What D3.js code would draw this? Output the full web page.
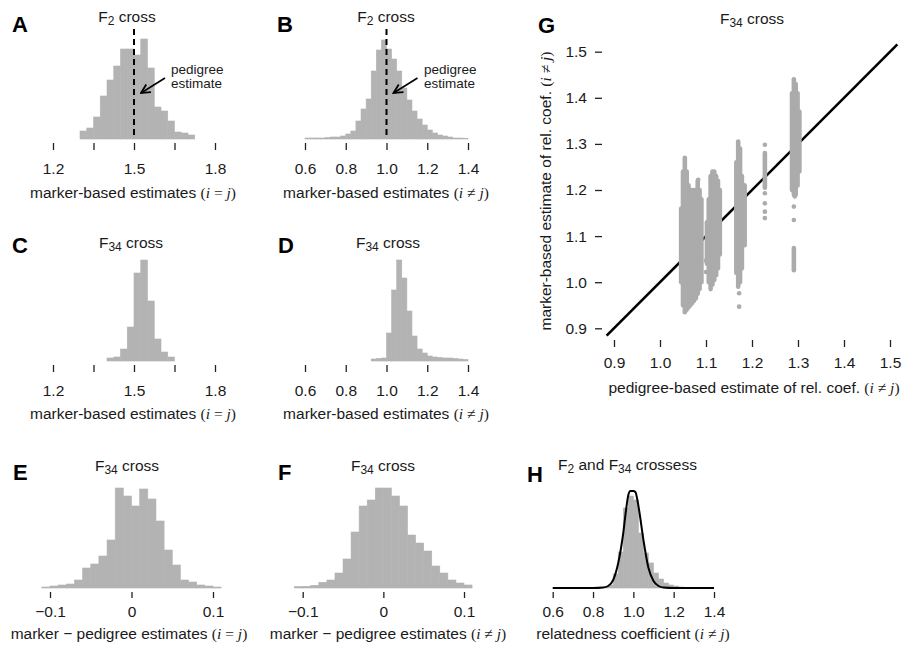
<!DOCTYPE html>
<html>
<head>
<meta charset="utf-8">
<script src="https://cdn.jsdelivr.net/npm/d3@7"></script>
<style>
body { margin: 0; background: #fff; }
text { font-family: "Liberation Sans", Arial, Helvetica, sans-serif; font-size: 15.5px; fill: #1a1a1a; }
</style>
</head>
<body>
<div id="fig"></div>
<script>
// ---- data (bar heights are relative frequencies, tallest bar ~100) ----

// A: F2 cross, marker-based estimates (i = j)
var histA_x0 = [1.300,1.325,1.350,1.375,1.400,1.425,1.450,1.475,1.500,1.525,1.550,1.575,1.600,1.625,1.650,1.675,1.700];
var histA_n  = [8,11,22,43,59,73,90,90,84,100,71,32,28,18,7,6,4];
var ticksA  = [1.2,1.35,1.5,1.65,1.8];
var labelsA = ["1.2","","1.5","","1.8"];

// B: F2 cross, marker-based estimates (i != j)
var histB_x0 = [0.600,0.625,0.650,0.675,0.700,0.725,0.750,0.775,0.800,0.825,0.850,0.875,0.900,0.925,0.950,0.975,
                1.000,1.025,1.050,1.075,1.100,1.125,1.150,1.175,1.200,1.225,1.250,1.275,1.300,1.325,1.350,1.375];
var histB_n  = [1,1,1,1,1.5,2,2,3,5,8,18,30,40,68,89,99,90,80,68,51,39,28,20,14,9,6,4,3,2,1,1,0.6];
var ticksB  = [0.6,0.8,1.0,1.2,1.4];
var labelsB = ["0.6","0.8","1.0","1.2","1.4"];

// C: F34 cross (i = j)
var histC_x0 = [1.400,1.425,1.450,1.475,1.500,1.525,1.550,1.575,1.600,1.625];
var histC_n  = [3,4,12,34,88,101,60,22,9,4];

// D: F34 cross (i != j)
var histD_x0 = [0.925,0.950,0.975,1.000,1.025,1.050,1.075,1.100,1.125,1.150,1.175,1.200,1.225,1.250,1.275,1.300,1.325,1.350,1.375];
var histD_n  = [2,2.5,3,28,71,101,83,50,25,12,8,5,4,3.5,3,3,2.5,2,1.5];

// E: marker - pedigree (i = j)
var histE_x0 = [-0.11,-0.10,-0.09,-0.08,-0.07,-0.06,-0.05,-0.04,-0.03,-0.02,-0.01,0.00,0.01,0.02,0.03,0.04,0.05,0.06,0.07,0.08,0.09,0.10];
var histE_n  = [1,2,3,4,8,20,24,32,48,100,92,82,99,89,67,38,23,8,6,3,2,1];

// F: marker - pedigree (i != j)
var histF_x0 = [-0.11,-0.10,-0.09,-0.08,-0.07,-0.06,-0.05,-0.04,-0.03,-0.02,-0.01,0.00,0.01,0.02,0.03,0.04,0.05,0.06,0.07,0.08,0.09,0.10];
var histF_n  = [1.5,1.7,2.7,5.7,8,15,29,56,82,88,100,100,92,82,53,45,37,22,15,8,5,3];
var ticksEF  = [-0.1,0,0.1];
var labelsEF = ["\u22120.1","0","0.1"];

// H: relatedness coefficient, F2 and F34 crosses
var histH_x0 = [0.850,0.875,0.900,0.925,0.950,0.975,1.000,1.025,1.050,1.075,1.100,1.125,1.150,1.175,1.200,1.225];
var histH_n  = [1,3,14,36,80,92,88,55,35,25,15,9,5,3,2,1];
var curveH_x = [0.60,0.80,0.85,0.875,0.90,0.925,0.95,0.965,0.975,0.985,1.000,1.010,1.020,1.030,1.050,1.075,1.100,1.125,1.150,1.200,1.400];
var curveH_y = [0,0,0.5,2,8,25,55,80,93,97,97,96,88,76,48,20,7,2,0.5,0,0];

// G: marker vs pedigree estimate, dense columns of points (x, low, high) and stray points
var gStripX  = [1.046,1.050,1.054,1.058,1.062,1.066,1.070,1.074,1.078,1.082,1.086,1.090,
                1.102,1.106,1.110,1.114,1.118,1.122,1.126,1.130,
                1.166,1.170,1.174,1.178,1.184,
                1.228,
                1.287,1.291,1.295,1.299,1.303,1.291];
var gStripLo = [1.00,0.95,0.935,0.94,0.945,0.95,0.955,0.96,0.965,0.975,0.985,1.00,
                1.04,1.00,0.985,0.995,1.005,1.015,1.03,1.06,
                1.02,0.99,1.00,1.03,1.08,
                1.205,
                1.20,1.19,1.19,1.21,1.24,1.026];
var gStripHi = [1.16,1.24,1.27,1.24,1.21,1.20,1.20,1.20,1.20,1.22,1.20,1.18,
                1.13,1.18,1.23,1.24,1.24,1.23,1.22,1.20,
                1.26,1.305,1.29,1.23,1.21,
                1.28,
                1.41,1.44,1.43,1.41,1.37,1.074];
var gDotX = [1.100,1.100,1.172,1.172,1.228,1.228,1.228,1.228,1.228,1.291,1.291,1.293,1.083];
var gDotY = [1.047,1.022,0.976,0.947,1.298,1.193,1.171,1.153,1.139,1.164,1.135,1.186,1.222];
var ticksG = [0.9,1.0,1.1,1.2,1.3,1.4,1.5];

var barColor = "#b3b3b3";
var serif = "'Liberation Serif', 'Times New Roman', serif";

var svg = d3.select("#fig").append("svg")
    .attr("width", 903)
    .attr("height", 659);
svg.append("rect").attr("width", 903).attr("height", 659).attr("fill", "#fff");

function letter(txt, x, y) {
  svg.append("text").attr("x", x).attr("y", y)
    .style("font-size", "22px").style("font-weight", "bold").style("fill", "#000")
    .text(txt);
}

// title with subscripts, parts = [[text, isSub], ...]
function subTitle(parts, x, y, anchor) {
  var t = svg.append("text").attr("x", x).attr("y", y).attr("text-anchor", anchor || "middle");
  var down = false;
  parts.forEach(function(p) {
    var s = t.append("tspan").text(p[0]);
    if (p[1]) { s.attr("dy", down ? 0 : 3).style("font-size", "12px"); down = true; }
    else if (down) { s.attr("dy", -3); down = false; }
  });
  return t;
}

function mathLabel(before, rel, x, y, rotate) {
  var t = svg.append("text").attr("text-anchor", "middle");
  if (rotate) t.attr("transform", "translate(" + x + "," + y + ") rotate(-90)");
  else t.attr("x", x).attr("y", y);
  t.append("tspan").text(before);
  t.append("tspan").attr("font-family", serif).text("(");
  t.append("tspan").attr("font-family", serif).attr("font-style", "italic").text("i");
  t.append("tspan").attr("font-family", serif).text(" " + rel + " ");
  t.append("tspan").attr("font-family", serif).attr("font-style", "italic").text("j");
  t.append("tspan").attr("font-family", serif).text(")");
}

function histPanel(cfg) {
  var x = d3.scaleLinear().domain(cfg.dom).range(cfg.rng);
  var y = d3.scaleLinear().domain([0, 100]).range([cfg.base, cfg.base - 100]);

  svg.append("g").selectAll("rect")
    .data(cfg.x0)
    .enter().append("rect")
    .attr("x", function(d) { return x(d); })
    .attr("width", function(d) { return x(d + cfg.w) - x(d); })
    .attr("y", function(d, i) { return y(cfg.n[i]); })
    .attr("height", function(d, i) { return cfg.base - y(cfg.n[i]); })
    .attr("fill", barColor)
    .attr("stroke", barColor)
    .attr("stroke-width", 0.6);

  var axis = d3.axisBottom(x)
    .tickValues(cfg.ticks)
    .tickSize(cfg.tl)
    .tickPadding(cfg.tp)
    .tickFormat(function(d, i) { return cfg.labels[i]; });

  var g = svg.append("g")
    .attr("transform", "translate(0," + (cfg.base + cfg.gap) + ")")
    .call(axis);
  g.select(".domain").remove();
  g.selectAll("line").attr("stroke", "#222").attr("stroke-width", 1.3);
  return { x: x, y: y };
}

// arrowhead
svg.append("defs").append("marker")
  .attr("id", "arr").attr("viewBox", "0 0 10 10")
  .attr("refX", 9).attr("refY", 5)
  .attr("markerWidth", 7).attr("markerHeight", 7)
  .attr("orient", "auto")
  .append("path").attr("d", "M1,1 L9,5 L1,9")
  .attr("fill", "none").attr("stroke", "#000").attr("stroke-width", 1.6);

function pedigreeNote(xpos, lineX) {
  svg.append("line")
    .attr("x1", lineX).attr("x2", lineX).attr("y1", 29).attr("y2", 139)
    .attr("stroke", "#000").attr("stroke-width", 2).attr("stroke-dasharray", "6,4");
  svg.append("line")
    .attr("x1", lineX + 31).attr("y1", 78).attr("x2", lineX + 7).attr("y2", 93)
    .attr("stroke", "#000").attr("stroke-width", 1.6).attr("marker-end", "url(#arr)");
  var t = svg.append("text").attr("x", xpos).style("font-size", "13.5px");
  t.append("tspan").attr("x", xpos).attr("y", 74).text("pedigree");
  t.append("tspan").attr("x", xpos).attr("y", 88).text("estimate");
}

// ---- row 1 ----
var pA = histPanel({x0: histA_x0, n: histA_n, w: 0.025, dom: [1.2, 1.8], rng: [53, 215], base: 139,
  gap: 4, tl: 7, tp: 13, ticks: ticksA, labels: labelsA});
letter("A", 12, 32);
subTitle([["F"], ["2", true], [" cross"]], 127, 22);
pedigreeNote(171, pA.x(1.5));
mathLabel("marker-based estimates ", "=", 133, 198);

var pB = histPanel({x0: histB_x0, n: histB_n, w: 0.025, dom: [0.6, 1.4], rng: [305, 468], base: 139,
  gap: 4, tl: 7, tp: 13, ticks: ticksB, labels: labelsB});
letter("B", 277, 32);
subTitle([["F"], ["2", true], [" cross"]], 386, 22);
pedigreeNote(424, pB.x(1.0));
mathLabel("marker-based estimates ", "\u2260", 386, 198);

// ---- row 2 ----
histPanel({x0: histC_x0, n: histC_n, w: 0.025, dom: [1.2, 1.8], rng: [53, 215], base: 361,
  gap: 4, tl: 7, tp: 13, ticks: ticksA, labels: labelsA});
letter("C", 12, 253);
subTitle([["F"], ["34", true], [" cross"]], 131, 248);
mathLabel("marker-based estimates ", "=", 133, 419);

histPanel({x0: histD_x0, n: histD_n, w: 0.025, dom: [0.6, 1.4], rng: [305, 468], base: 361,
  gap: 4, tl: 7, tp: 13, ticks: ticksB, labels: labelsB});
letter("D", 278, 253);
subTitle([["F"], ["34", true], [" cross"]], 388, 248);
mathLabel("marker-based estimates ", "\u2260", 386, 419);

// ---- row 3 ----
histPanel({x0: histE_x0, n: histE_n, w: 0.01, dom: [-0.1, 0.1], rng: [50, 213], base: 588,
  gap: 4, tl: 6, tp: 8, ticks: ticksEF, labels: labelsEF});
letter("E", 13, 480);
subTitle([["F"], ["34", true], [" cross"]], 127, 471);
mathLabel("marker \u2212 pedigree estimates ", "=", 129, 639);

histPanel({x0: histF_x0, n: histF_n, w: 0.01, dom: [-0.1, 0.1], rng: [302.7, 464], base: 588,
  gap: 4, tl: 6, tp: 8, ticks: ticksEF, labels: labelsEF});
letter("F", 278, 480);
subTitle([["F"], ["34", true], [" cross"]], 383, 471);
mathLabel("marker \u2212 pedigree estimates ", "\u2260", 388, 639);

var pH = histPanel({x0: histH_x0, n: histH_n, w: 0.025, dom: [0.6, 1.4], rng: [552.7, 714], base: 588,
  gap: 4, tl: 6, tp: 8, ticks: ticksB, labels: labelsB});
letter("H", 527, 482);
subTitle([["F"], ["2", true], [" and F"], ["34", true], [" crossess"]], 558, 470, "start");
mathLabel("relatedness coefficient ", "\u2260", 633, 639);

var curve = d3.line()
  .x(function(d, i) { return pH.x(curveH_x[i]); })
  .y(function(d) { return pH.y(d); })
  .curve(d3.curveMonotoneX);
svg.append("path")
  .attr("d", curve(curveH_y))
  .attr("fill", "none").attr("stroke", "#000").attr("stroke-width", 2);

// ---- G: scatter ----
var gx = d3.scaleLinear().domain([0.9, 1.5]).range([614, 890]);
var gy = d3.scaleLinear().domain([0.9, 1.5]).range([328.3, 51.7]);

svg.append("line")
  .attr("x1", gx(0.884)).attr("y1", gy(0.884))
  .attr("x2", gx(1.516)).attr("y2", gy(1.516))
  .attr("stroke", "#000").attr("stroke-width", 2.6);

var pts = svg.append("g");
pts.selectAll("line")
  .data(gStripX)
  .enter().append("line")
  .attr("x1", function(d) { return gx(d); })
  .attr("x2", function(d) { return gx(d); })
  .attr("y1", function(d, i) { return gy(gStripLo[i]); })
  .attr("y2", function(d, i) { return gy(gStripHi[i]); })
  .attr("stroke", "#ababab").attr("stroke-width", 4.6).attr("stroke-linecap", "round");
pts.selectAll("circle")
  .data(gDotX)
  .enter().append("circle")
  .attr("cx", function(d) { return gx(d); })
  .attr("cy", function(d, i) { return gy(gDotY[i]); })
  .attr("r", 2.3)
  .attr("fill", "#ababab");

var gxAxis = svg.append("g").attr("transform", "translate(0,340)")
  .call(d3.axisBottom(gx).tickValues(ticksG).tickSize(7).tickPadding(10).tickFormat(d3.format(".1f")));
gxAxis.select(".domain").remove();
var gyAxis = svg.append("g").attr("transform", "translate(602,0)")
  .call(d3.axisLeft(gy).tickValues(ticksG).tickSize(7).tickPadding(8).tickFormat(d3.format(".1f")));
gyAxis.select(".domain").remove();
svg.selectAll(".tick line").attr("stroke", "#222").attr("stroke-width", 1.3);

letter("G", 538, 33);
subTitle([["F"], ["34", true], [" cross"]], 752, 24);
mathLabel("pedigree-based estimate of rel. coef. ", "\u2260", 754, 393);
mathLabel("marker-based estimate of rel. coef. ", "\u2260", 551, 191, true);
</script>
</body>
</html>
